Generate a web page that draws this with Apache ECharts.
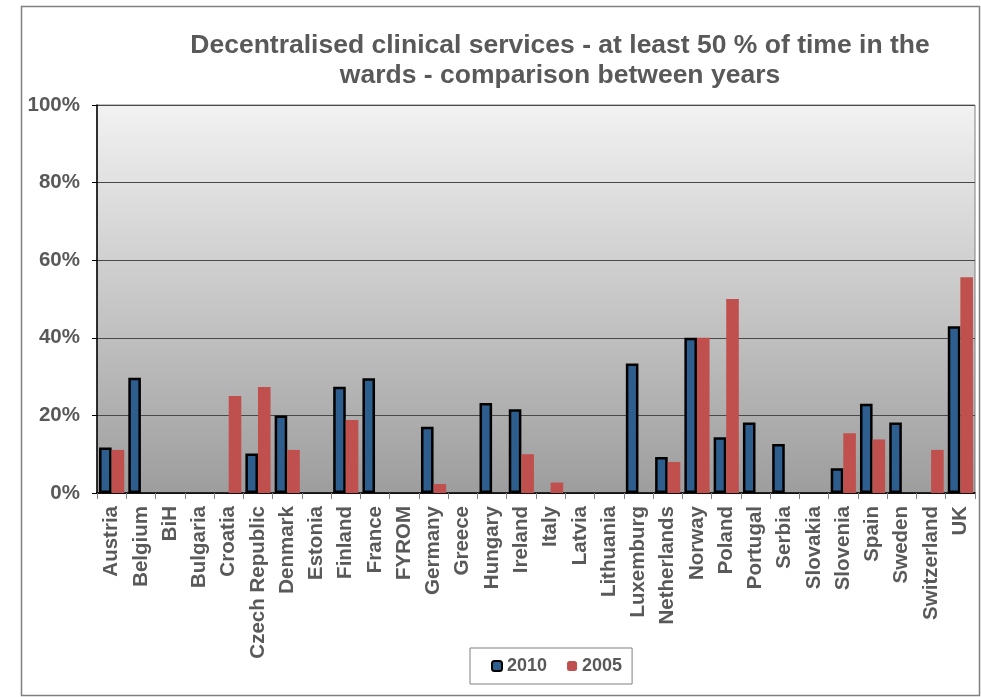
<!DOCTYPE html>
<html>
<head>
<meta charset="utf-8">
<script src="https://cdn.jsdelivr.net/npm/echarts@6/dist/echarts.min.js"></script>
<style>
  html, body { margin: 0; padding: 0; background: #fff; }
  #main { width: 981px; height: 697px; }
</style>
</head>
<body>
<div id="main"></div>
<script>
// 国家
var countries = ['Austria', 'Belgium', 'BiH', 'Bulgaria', 'Croatia', 'Czech Republic', 'Denmark', 'Estonia',
  'Finland', 'France', 'FYROM', 'Germany', 'Greece', 'Hungary', 'Ireland', 'Italy', 'Latvia', 'Lithuania',
  'Luxemburg', 'Netherlands', 'Norway', 'Poland', 'Portugal', 'Serbia', 'Slovakia', 'Slovenia', 'Spain',
  'Sweden', 'Switzerland', 'UK'];
// 2010 (%)
var y2010 = [11.7, 29.7, null, null, null, 10.2, 20, null, 27.4, 29.6, null, 17.1, null, 23.2, 21.6, null, null, null,
  33.4, 9.3, 40, 14.4, 18.2, 12.6, null, 6.4, 23, 18.2, null, 43];
// 2005 (%)
var y2005 = [11.1, null, null, null, 25, 27.3, 11.1, null, 18.8, null, null, 2.3, null, null, 10, 2.7, null, null,
  null, 8, 40, 50, null, null, null, 15.4, 13.8, null, 11.1, 55.6];
var yTicks = [0, 20, 40, 60, 80, 100];

var font = "'Liberation Sans', Arial, sans-serif";
var myChart = echarts.init(document.getElementById('main'));
var option = {
  animation: false,
  title: {
    text: 'Decentralised clinical services - at least 50 % of time in the\nwards - comparison between years',
    left: 560,
    top: 31,
    padding: 0,
    textAlign: 'center',
    textStyle: { fontFamily: font, fontSize: 26.5, fontWeight: 'bold', color: '#595959', lineHeight: 30 }
  },
  graphic: [{
    type: 'rect',
    shape: { x: 21.5, y: 6.5, width: 958, height: 689 },
    style: { fill: 'none', stroke: '#808080', lineWidth: 1.5 },
    z: -1
  }],
  legend: {
    left: 470,
    top: 648,
    padding: [9, 10, 9, 21],
    itemGap: 20,
    itemWidth: 10,
    itemHeight: 10,
    borderColor: '#808080',
    borderWidth: 1,
    textStyle: { fontFamily: font, fontSize: 18, fontWeight: 'bold', color: '#595959' },
    data: ['2010', '2005']
  },
  grid: {
    left: 97,
    right: 6,
    top: 105,
    bottom: 204,
    show: true,
    borderColor: '#808080',
    borderWidth: 1,
    backgroundColor: new echarts.graphic.LinearGradient(0, 0, 0, 1, [
      { offset: 0, color: '#f2f2f2' },
      { offset: 1, color: '#9d9d9d' }
    ])
  },
  xAxis: {
    type: 'category',
    data: countries,
    axisLine: { lineStyle: { color: '#000', width: 1.5 } },
    axisTick: { show: true, length: 6, lineStyle: { color: '#808080' } },
    axisLabel: {
      interval: 0,
      rotate: 90,
      margin: 13,
      fontFamily: font,
      fontSize: 20.5,
      fontWeight: 'bold',
      color: '#595959'
    }
  },
  yAxis: {
    type: 'value',
    min: yTicks[0],
    max: yTicks[yTicks.length - 1],
    interval: 20,
    axisLine: { show: true, lineStyle: { color: '#000', width: 1.5 } },
    axisTick: { show: true, length: 5, lineStyle: { color: '#000' } },
    splitLine: { lineStyle: { color: '#484848', width: 1 } },
    axisLabel: {
      margin: 17,
      formatter: '{value}%',
      fontFamily: font,
      fontSize: 20.5,
      fontWeight: 'bold',
      color: '#595959'
    }
  },
  series: [
    {
      name: '2010',
      type: 'bar',
      data: y2010,
      barGap: '0%',
      barCategoryGap: '14%',
      itemStyle: { color: '#2e5e8e', borderColor: '#000', borderWidth: 2.5 }
    },
    {
      name: '2005',
      type: 'bar',
      data: y2005,
      itemStyle: { color: '#c0504d' }
    }
  ]
};
myChart.setOption(option);
</script>
</body>
</html>
